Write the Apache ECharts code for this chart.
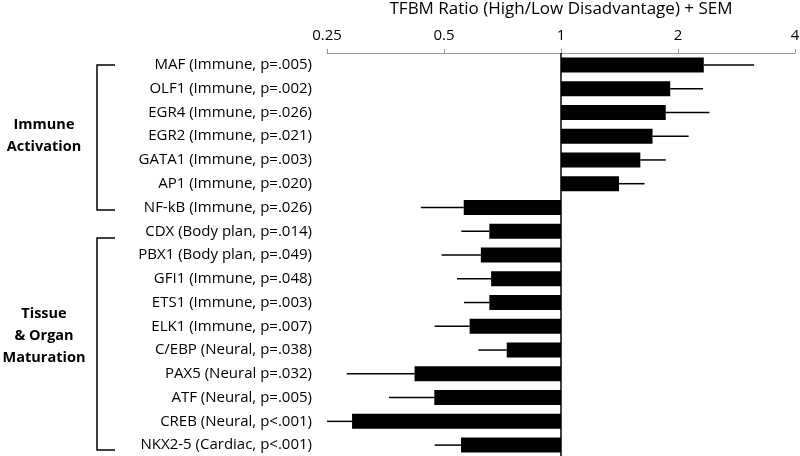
<!DOCTYPE html>
<html>
<head>
<meta charset="utf-8">
<script src="https://cdn.jsdelivr.net/npm/echarts@6/dist/echarts.min.js"></script>
<style>html,body{margin:0;padding:0;background:#fff;}#c{width:800px;height:456px;}</style>
</head>
<body>
<div id="c"></div>
<script>
const categories = [
  'MAF (Immune, p=.005)','OLF1 (Immune, p=.002)','EGR4 (Immune, p=.026)','EGR2 (Immune, p=.021)',
  'GATA1 (Immune, p=.003)','AP1 (Immune, p=.020)','NF-kB (Immune, p=.026)','CDX (Body plan, p=.014)',
  'PBX1 (Body plan, p=.049)','GFI1 (Immune, p=.048)','ETS1 (Immune, p=.003)','ELK1 (Immune, p=.007)',
  'C/EBP (Neural, p=.038)','PAX5 (Neural p=.032)','ATF (Neural, p=.005)','CREB (Neural, p<.001)',
  'NKX2-5 (Cardiac, p<.001)'
];
const ratios = [2.33,1.91,1.86,1.72,1.60,1.41,0.562,0.654,0.622,0.661,0.654,0.582,0.725,0.420,0.472,0.290,0.553];
const semEnds = [3.14,2.32,2.41,2.13,1.86,1.64,0.436,0.554,0.493,0.540,0.563,0.473,0.613,0.281,0.361,0.250,0.473];
const tickLabels = ['0.25','0.5','1','2','4'];
const baseline = 1;

const chart = echarts.init(document.getElementById('c'));
const font = '"Open Sans", sans-serif';

const barData = ratios.map((v, i) => [v, i, semEnds[i]]);

chart.setOption({
  animation: false,
  grid: { left: 327, right: 5, top: 53, bottom: -1, containLabel: false, outerBoundsMode: 'none' },
  xAxis: {
    type: 'log', logBase: 2, min: 0.25, max: 4, position: 'top',
    name: 'TFBM Ratio (High/Low Disadvantage) + SEM',
    nameLocation: 'middle', nameGap: 35,
    nameTextStyle: { fontFamily: font, fontSize: 17, color: '#000' },
    axisLine: { show: true, lineStyle: { color: '#999', width: 1 } },
    axisTick: { show: true, length: 4, lineStyle: { color: '#999' } },
    splitLine: { show: false },
    axisLabel: {
      fontFamily: font, fontSize: 15, color: '#000', margin: 10,
      formatter: v => { const s = tickLabels.find(t => Math.abs(parseFloat(t) - v) < 1e-6); return s || ''; }
    }
  },
  yAxis: {
    type: 'category', data: categories, inverse: true,
    axisLine: { show: false }, axisTick: { show: false },
    axisLabel: { fontFamily: font, fontSize: 15, color: '#000', margin: 15 }
  },
  series: [{
    type: 'custom',
    data: barData,
    encode: { x: 0, y: 1 },
    renderItem: (params, api) => {
      const v = api.value(0), idx = api.value(1), e = api.value(2);
      const p0 = api.coord([baseline, idx]);
      const p1 = api.coord([v, idx]);
      const pe = api.coord([e, idx]);
      const h = 15;
      const x = Math.min(p0[0], p1[0]);
      const w = Math.abs(p1[0] - p0[0]);
      return {
        type: 'group',
        children: [
          { type: 'line', shape: { x1: p1[0], y1: p1[1], x2: pe[0], y2: pe[1] }, style: { stroke: '#000', lineWidth: 1.5 } },
          { type: 'rect', shape: { x: x, y: p0[1] - h / 2, width: w, height: h }, style: { fill: '#000' } }
        ]
      };
    },
    markLine: {
      silent: true, symbol: 'none', label: { show: false },
      lineStyle: { color: '#000', width: 1.5, type: 'solid' },
      data: [{ xAxis: baseline }]
    }
  }],
  graphic: [
    { type: 'polyline', shape: { points: [[115, 65], [97, 65], [97, 210], [115, 210]] }, style: { stroke: '#000', lineWidth: 1.5, fill: null } },
    { type: 'polyline', shape: { points: [[115, 238], [97, 238], [97, 450], [115, 450]] }, style: { stroke: '#000', lineWidth: 1.5, fill: null } },
    { type: 'text', x: 44, y: 136, style: { text: 'Immune\nActivation', fontFamily: font, fontSize: 14.5, fontWeight: 'bold', fill: '#000', align: 'center', verticalAlign: 'middle', lineHeight: 22 } },
    { type: 'text', x: 44, y: 336, style: { text: 'Tissue\n& Organ\nMaturation', fontFamily: font, fontSize: 14.5, fontWeight: 'bold', fill: '#000', align: 'center', verticalAlign: 'middle', lineHeight: 22 } }
  ]
});
</script>
</body>
</html>
